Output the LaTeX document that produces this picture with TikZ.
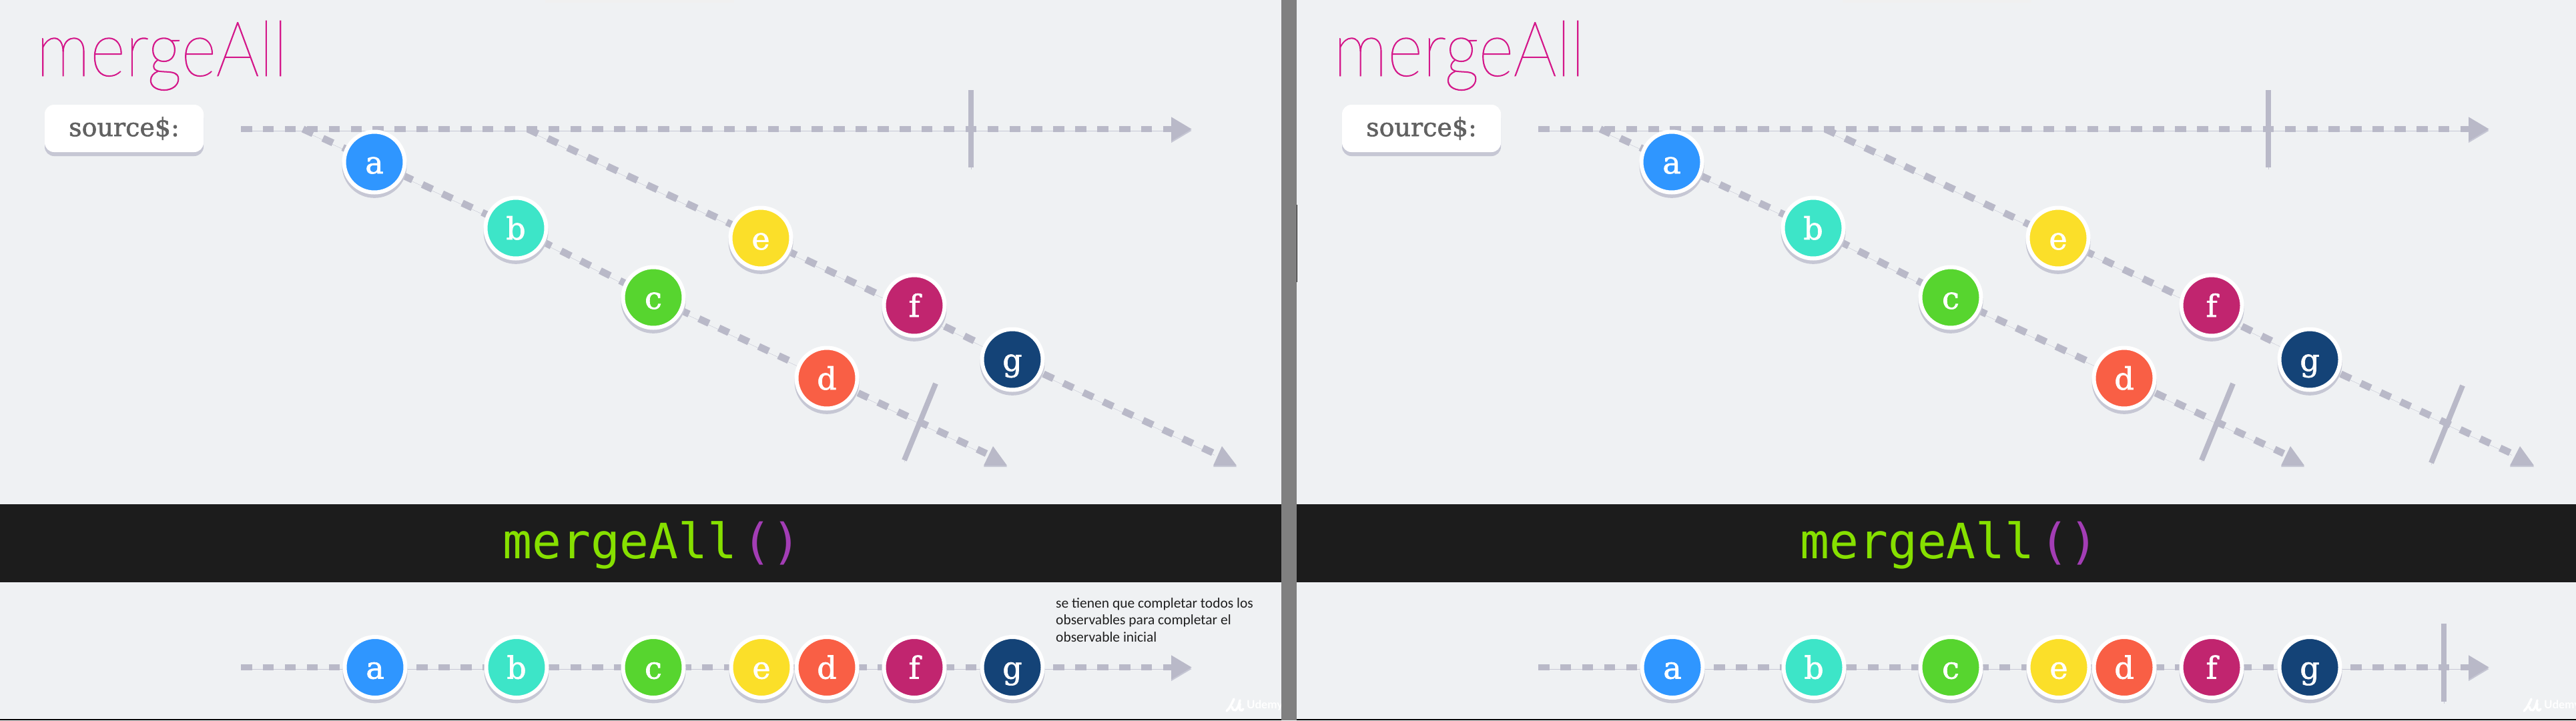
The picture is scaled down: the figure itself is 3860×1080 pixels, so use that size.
\documentclass[tikz,border=0pt]{standalone}
\usepackage{fontspec}
\usetikzlibrary{arrows.meta,calc,shadows}
\newfontfamily\slabfont[FakeBold=1.5]{DejaVu Serif}
\newfontfamily\codefont{DejaVu Sans Mono}
\newfontfamily\notefont{Carlito}
\newfontfamily\titlefont[FakeStretch=0.89,FakeBold=0.8]{Lato Hairline}
\newfontfamily\logofont{Lato}
\definecolor{panelbg}{HTML}{EFF1F3}
\definecolor{streamgray}{HTML}{B9B9C8}
\definecolor{streamshade}{HTML}{C6C7D4}
\definecolor{titlepink}{HTML}{D4188A}
\definecolor{codegreen}{HTML}{86E000}
\definecolor{codepurple}{HTML}{A33DB5}
\definecolor{barblack}{HTML}{1C1C1C}
\definecolor{marbleA}{HTML}{2F96FF}
\definecolor{marbleB}{HTML}{3DE5C8}
\definecolor{marbleC}{HTML}{57D52F}
\definecolor{marbleD}{HTML}{F95F45}
\definecolor{marbleE}{HTML}{FBDF29}
\definecolor{marbleF}{HTML}{C1256F}
\definecolor{marbleG}{HTML}{144377}
\pgfdeclarelayer{background}
\pgfsetlayers{background,main}
\tikzset{
  marble/.style={circle, draw=white, line width=6pt, fill=#1, minimum size=91pt, inner sep=0pt,
    text=white, text height=34pt, text depth=0pt,
    font=\slabfont\fontsize{46}{46}\selectfont,
    drop shadow={shadow xshift=0pt, shadow yshift=-5pt, shadow scale=1.066, fill=streamshade, opacity=1}},
  sourcebox/.style={rectangle, rounded corners=14pt, fill=white, minimum width=238pt, minimum height=71pt,
    text=black!62, font=\slabfont\fontsize{38}{38}\selectfont,
    drop shadow={shadow xshift=0pt, shadow yshift=-6pt, shadow scale=1, fill=streamshade, opacity=1}},
  mergetitle/.style={anchor=base west, inner sep=0pt, text=titlepink, font=\titlefont\fontsize{115}{115}\selectfont},
  operator/.style={anchor=base west, inner sep=0pt, text=codegreen, font=\codefont\fontsize{73}{73}\selectfont},
  stream/.style={draw=streamgray, line width=9pt, dash pattern=on 16.5pt off 16.4pt,
    preaction={draw=streamshade, transform canvas={yshift=-2.5pt}}},
  slantstream/.style={stream, line width=10.5pt},
  streamtip/.style={-{Triangle[length=31pt, width=34pt]}},
  endtick/.style={draw=streamgray, line width=8pt,
    preaction={draw=streamshade, transform canvas={yshift=-3pt}}},
  slanttip/.style={fill=streamgray, preaction={fill=streamshade, transform canvas={yshift=-2pt}}},
  udemylabel/.style={anchor=west, inner sep=0pt, text=white, font=\logofont\bfseries\fontsize{17}{17}\selectfont},
  udemymark/.style={draw=white, line width=3.5pt, line cap=round}
}
\begin{document}
\begin{tikzpicture}[x=1pt, y=-1pt]
  \useasboundingbox (0,0) rectangle (3860,1080);
  \begin{pgfonlayer}{background}
    \fill[panelbg] (0,0) rectangle (3860,1080);
    \fill[black!6] (817,0) rectangle (1100,4);
    \fill[black!6] (2761,0) rectangle (3044,4);
  \end{pgfonlayer}

  % left panel
  \node[mergetitle] (title) at (54,114) {mergeAll};
  \node[sourcebox] (source) at (186,192.5) {source\$:};

  \node[marble=marbleA] (a) at (561,243) {a};
  \node[marble=marbleB] (b) at (773,342) {b};
  \node[marble=marbleC] (c) at (979,446) {c};
  \node[marble=marbleD] (d) at (1239,567) {d};
  \node[marble=marbleE] (e) at (1140,357) {e};
  \node[marble=marbleF] (f) at (1370,458) {f};
  \node[marble=marbleG] (g) at (1517,539) {g};

  \coordinate (srcstart) at (361,193.5);
  \coordinate (srcend) at (1786,193.5);
  \coordinate (forkA) at (454,193.5);
  \coordinate (forkB) at (791,193.5);
  \coordinate (endA) at (1478,680);
  \coordinate (endB) at (1820,680);
  \coordinate (srctickup) at (1455,135);
  \coordinate (srctickdown) at (1455,251);
  \coordinate (ticktopA) at (1402,575);
  \coordinate (tickbotA) at (1355,690);

  \begin{pgfonlayer}{background}
    \draw[stream, streamtip] (srcstart) -- (srcend);
    \draw[slantstream] (forkA) -- (a.center) -- (b.center) -- (c.center) -- (d.center) -- (endA);
    \draw[slantstream] (forkB) -- (e.center) -- ($(f.center)+(0,9)$) -- (g.center) -- (endB);
    \draw[endtick] (srctickup) -- (srctickdown);
    \draw[endtick] (ticktopA) -- (tickbotA);
    \path[slanttip] (1488,669) -- (1474,698) -- (1509,698) -- cycle;
    \path[slanttip] (1831,669) -- (1818,698) -- (1853,698) -- cycle;
  \end{pgfonlayer}

  % operator bar
  \fill[barblack] (0,756) rectangle (3860,873);
  \node[operator] (op) at (753,837) {mergeAll\textcolor{codepurple}{\kern 8pt()}};
  \node[operator] (op2) at (2697,837) {mergeAll\textcolor{codepurple}{\kern 8pt()}};

  % left result
  \node[marble=marbleA] (ra) at (562,1000.5) {a};
  \node[marble=marbleB] (rb) at (774,1000.5) {b};
  \node[marble=marbleC] (rc) at (979,1000.5) {c};
  \node[marble=marbleE] (re) at (1141,1000.5) {e};
  \node[marble=marbleD] (rd) at (1239,1000.5) {d};
  \node[marble=marbleF] (rf) at (1370,1000.5) {f};
  \node[marble=marbleG] (rg) at (1517,1000.5) {g};
  \coordinate (resstart) at (361,1000.5);
  \coordinate (resend) at (1786,1000.5);
  \begin{pgfonlayer}{background}
    \draw[stream, streamtip] (resstart) -- (ra.center) -- (rb.center) -- (rc.center) -- (re.center) -- (rd.center) -- (rf.center) -- (rg.center) -- (resend);
  \end{pgfonlayer}
  \node[anchor=north west, inner sep=0pt, align=left, text=black!88, font=\notefont\fontsize{21.5}{25.5}\selectfont] (note) at (1582,896) {se tienen que completar todos los\\observables para completar el\\observable inicial};

  % right panel
  \node[mergetitle] (title2) at (1998,114) {mergeAll};
  \node[sourcebox] (source2) at (2130,192.5) {source\$:};

  \node[marble=marbleA] (a2) at (2505,243) {a};
  \node[marble=marbleB] (b2) at (2717,342) {b};
  \node[marble=marbleC] (c2) at (2923,446) {c};
  \node[marble=marbleD] (d2) at (3183,567) {d};
  \node[marble=marbleE] (e2) at (3084,357) {e};
  \node[marble=marbleF] (f2) at (3314,458) {f};
  \node[marble=marbleG] (g2) at (3461,539) {g};

  \coordinate (srcstart2) at (2305,193.5);
  \coordinate (srcend2) at (3730,193.5);
  \coordinate (forkA2) at (2398,193.5);
  \coordinate (forkB2) at (2735,193.5);
  \coordinate (endA2) at (3422,680);
  \coordinate (endB2) at (3764,680);
  \coordinate (srctickup2) at (3399,135);
  \coordinate (srctickdown2) at (3399,251);
  \coordinate (ticktopA2) at (3346,575);
  \coordinate (tickbotA2) at (3299,690);
  \coordinate (ticktopB2) at (3690,578);
  \coordinate (tickbotB2) at (3643,694);

  \begin{pgfonlayer}{background}
    \draw[stream, streamtip] (srcstart2) -- (srcend2);
    \draw[slantstream] (forkA2) -- (a2.center) -- (b2.center) -- (c2.center) -- (d2.center) -- (endA2);
    \draw[slantstream] (forkB2) -- (e2.center) -- ($(f2.center)+(0,9)$) -- (g2.center) -- (endB2);
    \draw[endtick] (srctickup2) -- (srctickdown2);
    \draw[endtick] (ticktopA2) -- (tickbotA2);
    \draw[endtick] (ticktopB2) -- (tickbotB2);
    \path[slanttip] (3432,669) -- (3418,698) -- (3453,698) -- cycle;
    \path[slanttip] (3776,669) -- (3761,698) -- (3797,698) -- cycle;
  \end{pgfonlayer}

  % right result
  \node[marble=marbleA] (ra2) at (2506,1000.5) {a};
  \node[marble=marbleB] (rb2) at (2718,1000.5) {b};
  \node[marble=marbleC] (rc2) at (2923,1000.5) {c};
  \node[marble=marbleE] (re2) at (3085,1000.5) {e};
  \node[marble=marbleD] (rd2) at (3183,1000.5) {d};
  \node[marble=marbleF] (rf2) at (3314,1000.5) {f};
  \node[marble=marbleG] (rg2) at (3461,1000.5) {g};
  \coordinate (resstart2) at (2305,1000.5);
  \coordinate (resend2) at (3730,1000.5);
  \coordinate (restickup2) at (3662,935);
  \coordinate (restickdown2) at (3662,1052);
  \begin{pgfonlayer}{background}
    \draw[stream, streamtip] (resstart2) -- (ra2.center) -- (rb2.center) -- (rc2.center) -- (re2.center) -- (rd2.center) -- (rf2.center) -- (rg2.center) -- (resend2);
    \draw[endtick] (restickup2) -- (restickdown2);
  \end{pgfonlayer}

  % udemy marks
  \draw[udemymark] (1838,1066) .. controls (1843,1062) and (1846,1054) .. (1849,1048);
  \draw[udemymark] (1846,1060) .. controls (1848,1068) and (1854,1068) .. (1858,1050);
  \draw[udemymark] (1858,1055) .. controls (1856,1066) and (1860,1067) .. (1863,1063);
  \node[udemylabel] (logo) at (1868,1058) {Udemy};
  \draw[udemymark] (3782,1066) .. controls (3787,1062) and (3790,1054) .. (3793,1048);
  \draw[udemymark] (3790,1060) .. controls (3792,1068) and (3798,1068) .. (3802,1050);
  \draw[udemymark] (3802,1055) .. controls (3800,1066) and (3804,1067) .. (3807,1063);
  \node[udemylabel] (logo2) at (3812,1058) {Udemy};

  % frame
  \fill[black] (0,1078) rectangle (3860,1080);
  \fill[black!50] (1920,0) rectangle (1943,1080);
  \fill[black!85] (1943,307) rectangle (1944,423);
\end{tikzpicture}
\end{document}
